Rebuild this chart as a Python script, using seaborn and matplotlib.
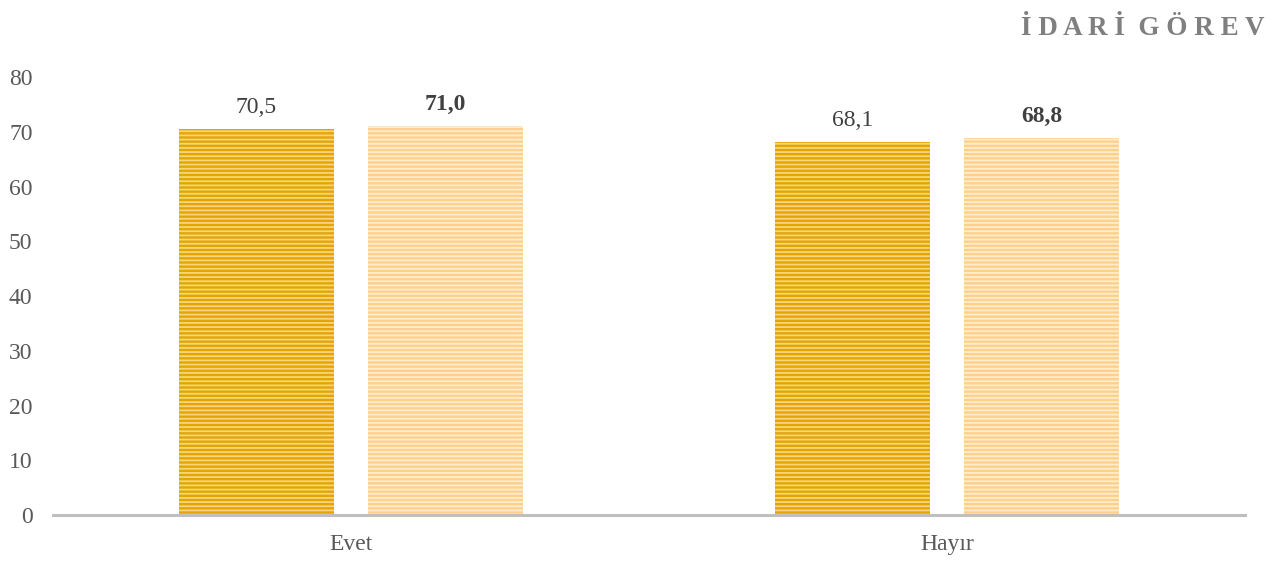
import seaborn as sns
import matplotlib.pyplot as plt
import pandas as pd

categories = ["Evet", "Hayır"]
series = ["Seri 1", "Seri 2"]
values_1 = [70.5, 68.1]
values_2 = [71.0, 68.8]

FACE = ["#E3A502", "#FFD08C"]
STRIPE = ["#F7D57C", "#FFEDCF"]


def main():
    sns.set_theme(style="white")
    plt.rcParams['font.family'] = ['Liberation Serif', 'DejaVu Serif']
    plt.rcParams['hatch.linewidth'] = 1.3

    df = pd.DataFrame({
        "cat": categories * 2,
        "seri": [series[0]] * 2 + [series[1]] * 2,
        "val": values_1 + values_2,
    })

    fig = plt.figure(figsize=(12.85, 5.61), dpi=100)
    ax = fig.add_axes([0.041, 0.082, 0.928, 0.7807])
    sns.barplot(data=df, x="cat", y="val", hue="seri", order=categories,
                hue_order=series, palette=FACE, width=0.633, gap=0.18,
                legend=False, ax=ax, linewidth=0, saturation=1)

    for i, cont in enumerate(ax.containers):
        for p in cont:
            p.set_hatch("----")
            p.set_edgecolor(STRIPE[i])
            p.set_linewidth(0)
        labels = [f"{v:.1f}".replace(".", ",") for v in cont.datavalues]
        ax.bar_label(cont, labels=labels, padding=8, fontsize=17,
                     color="#404040",
                     fontweight="bold" if i == 1 else "normal")

    ax.set_ylim(0, 80)
    ax.set_xlim(-0.5, 1.5)
    ax.set_yticks(range(0, 81, 10))
    ax.set_xlabel("")
    ax.set_ylabel("")
    ax.tick_params(axis="both", labelsize=17, colors="#595959", length=0)
    ax.tick_params(axis="y", pad=14.5)
    ax.tick_params(axis="x", pad=14)
    for s in ["left", "right", "top"]:
        ax.spines[s].set_visible(False)
    ax.spines["bottom"].set_color("#BFBFBF")
    ax.spines["bottom"].set_linewidth(2.2)

    fig.text(0.984, 0.95, "İ D A R İ  G Ö R E V", ha="right", va="center",
             fontsize=19.5, fontweight="bold", color="#7F7F7F")

    fig.savefig("out.png", dpi=100)


if __name__ == "__main__":
    main()
